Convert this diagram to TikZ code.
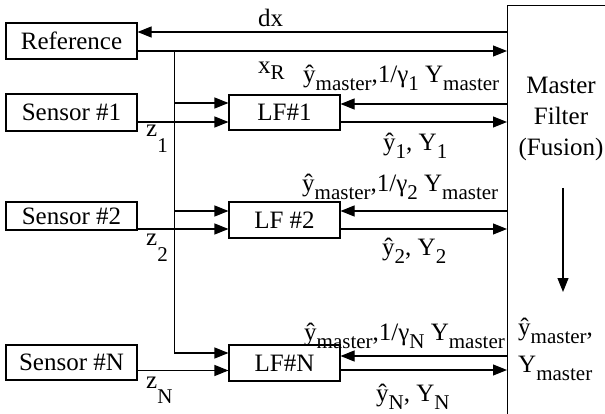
\documentclass[tikz,border=0pt]{standalone}
\usepackage{fontspec}
\setmainfont{Liberation Serif}
\usetikzlibrary{arrows.meta}
\newcommand{\sbx}[2]{\raisebox{-#1}{\fontsize{21}{21}\selectfont #2}}
\begin{document}
\begin{tikzpicture}[x=1pt,y=-1pt,
  every node/.style={font=\fontsize{25}{29}\selectfont},
  blk/.style={draw, line width=1.1pt, inner sep=0pt},
  lbl/.style={inner sep=0pt, anchor=base west},
  ctr/.style={inner sep=0pt, anchor=base},
  arr/.style={line width=1.1pt, -{Triangle[length=14pt,width=11pt]}},
  ln/.style={line width=1.1pt}]
\useasboundingbox (0,0) rectangle (605,414);
% blocks
\node[blk, minimum width=131pt, minimum height=36pt] (ref) at (71.5,41) {Reference};
\node[blk, minimum width=131pt, minimum height=37pt] (s1) at (71.5,112.5) {Sensor \#1};
\node[blk, minimum width=131pt, minimum height=28pt] (s2) at (71.5,216) {Sensor \#2};
\node[blk, minimum width=131pt, minimum height=35pt] (sN) at (71.5,362.5) {Sensor \#N};
\node[blk, minimum width=111pt, minimum height=35pt] (lf1) at (284.5,112.5) {LF\#1};
\node[blk, minimum width=111pt, minimum height=36pt] (lf2) at (284.5,220) {LF \#2};
\node[blk, minimum width=111pt, minimum height=36pt] (lfN) at (284.5,363) {LF\#N};
\node[blk, anchor=north west, minimum width=130pt, minimum height=440pt] (master) at (507,5) {};
% connection points
\coordinate (refin) at ([yshift=9pt]ref.east);
\coordinate (refout) at ([yshift=-10pt]ref.east);
\coordinate (bus) at ([xshift=37pt]refout);
\coordinate (in11) at ([yshift=9.5pt]lf1.west);
\coordinate (in12) at ([yshift=-9.5pt]lf1.west);
\coordinate (in21) at ([yshift=9pt]lf2.west);
\coordinate (in22) at ([yshift=-9pt]lf2.west);
\coordinate (inN1) at ([yshift=10pt]lfN.west);
\coordinate (inN2) at ([yshift=-7.5pt]lfN.west);
\coordinate (r1) at ([yshift=8.5pt]lf1.east);
\coordinate (o1) at ([yshift=-9.5pt]lf1.east);
\coordinate (r2) at ([yshift=9pt]lf2.east);
\coordinate (o2) at ([yshift=-9pt]lf2.east);
\coordinate (rN) at ([yshift=7pt]lfN.east);
\coordinate (oN) at ([yshift=-7pt]lfN.east);
\coordinate (d1) at ([xshift=56pt,yshift=-183pt]master.north west);
\coordinate (d2) at ([xshift=56pt,yshift=-287pt]master.north west);
% reference links
\draw[arr] (master.west |- refin) -- (refin);
\draw[arr] (refout) -- (master.west |- refout);
\draw[arr] (bus) |- (inN1);
\draw[arr] (bus |- in11) -- (in11);
\draw[arr] (bus |- in21) -- (in21);
% sensor links
\draw[arr] (s1.east |- in12) -- (in12);
\draw[arr] (s2.east |- in22) -- (in22);
\draw[arr] (sN.east |- inN2) -- (inN2);
% local filter <-> master
\draw[arr] (master.west |- r1) -- (r1);
\draw[arr] (o1) -- (master.west |- o1);
\draw[arr] (master.west |- r2) -- (r2);
\draw[arr] (o2) -- (master.west |- o2);
\draw[arr] (master.west |- rN) -- (rN);
\draw[arr] (oN) -- (master.west |- oN);
\draw[arr] (d1) -- (d2);
% labels
\node[lbl] (tdx) at (258,27) {dx};
\node[lbl] (txr) at (258,74) {x\sbx{6pt}{R}};
\node[lbl] (tz1) at (146,137) {z\sbx{16pt}{1}};
\node[lbl] (tz2) at (146,245) {z\sbx{17pt}{2}};
\node[lbl] (tzN) at (146,388) {z\sbx{15pt}{N}};
\node[lbl] (tm1) at (303,83) {ŷ\sbx{8pt}{master},1/γ\sbx{8pt}{1} Y\sbx{8pt}{master}};
\node[lbl] (ty1) at (383,151) {ŷ\sbx{8pt}{1}, Y\sbx{8pt}{1}};
\node[lbl] (tm2) at (302,192) {ŷ\sbx{8pt}{master},1/γ\sbx{8pt}{2} Y\sbx{8pt}{master}};
\node[lbl] (ty2) at (382,255) {ŷ\sbx{8pt}{2}, Y\sbx{8pt}{2}};
\node[lbl] (tmN) at (304,340) {ŷ\sbx{8pt}{master},1/γ\sbx{8pt}{N} Y\sbx{8pt}{master}};
\node[lbl] (tyN) at (376,401) {ŷ\sbx{8pt}{N}, Y\sbx{8pt}{N}};
\node[ctr] (tma) at (561,94) {Master};
\node[ctr] (tfi) at (561,125) {Filter};
\node[ctr] (tfu) at (561,156) {(Fusion)};
\node[lbl] (tym) at (518,335) {ŷ\sbx{8pt}{master},};
\node[lbl] (tYm) at (518,372) {Y\sbx{8pt}{master}};
\end{tikzpicture}
\end{document}
